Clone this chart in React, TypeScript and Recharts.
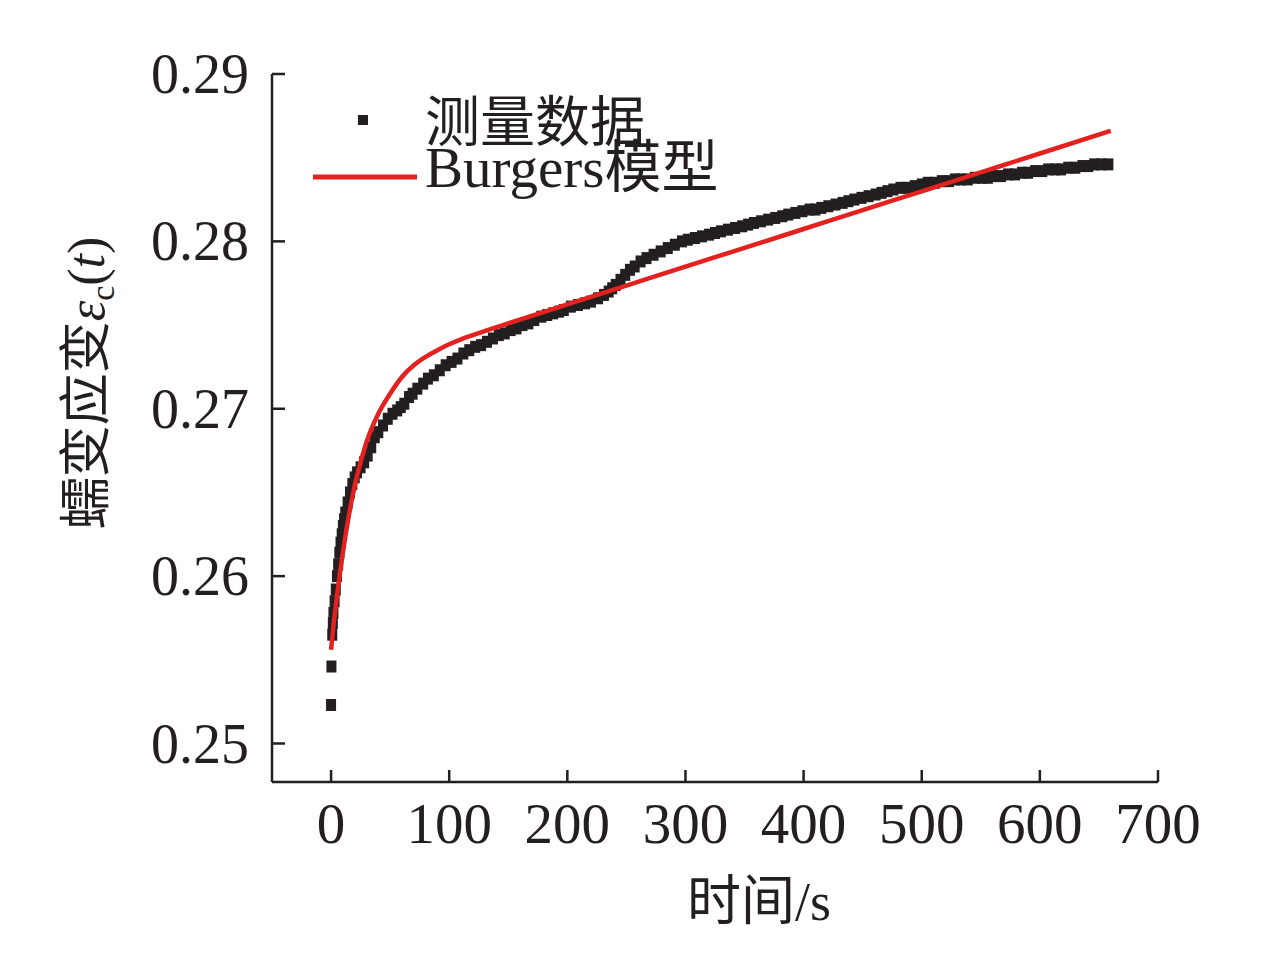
import React from 'react';
import { ScatterChart, Scatter, XAxis, YAxis, Legend } from 'recharts';

// ---- data ----
const measuredTime = [
  0, 0.3, 1, 1.5, 2, 3, 4, 5, 6, 7, 8, 9, 10, 11, 12, 14, 16, 18, 20, 22, 25, 28, 31, 34, 37, 40, 44, 48, 52, 56, 59,
  62, 66, 69, 73, 78, 82, 87, 92, 97, 102, 107, 112, 117, 122, 127, 132, 137, 142, 147, 152, 157, 162, 167, 172,
  178, 183, 188, 193, 197, 203, 209, 215, 220, 226, 231, 235, 238, 241, 245, 249, 253, 257, 262, 267, 273, 279,
  285, 291, 297, 302, 308, 314, 320, 325, 330, 336, 342, 348, 353, 358, 364, 370, 376, 382, 387, 393, 399, 405,
  410, 415, 421, 427, 433, 438, 443, 449, 455, 461, 466, 471, 476, 482, 488, 494, 500, 505, 511, 517, 523, 528,
  533, 539, 545, 551, 556, 561, 567, 573, 579, 585, 590, 596, 602, 607, 613, 618, 624, 630, 636, 641, 646, 652, 658,
];
const measuredStrain = [
  0.2523, 0.2546, 0.2565, 0.2572, 0.2578, 0.2585, 0.2592, 0.26, 0.2607, 0.2614, 0.262, 0.2625, 0.263, 0.2634,
  0.2638, 0.2644, 0.265, 0.2655, 0.2659, 0.2662, 0.2665, 0.2668, 0.2672, 0.2677, 0.2683, 0.2686, 0.269, 0.2694,
  0.2697, 0.2699, 0.2701,
  0.2703, 0.2707, 0.2709, 0.2712, 0.2715, 0.2718, 0.272, 0.2723, 0.2726, 0.2728, 0.273, 0.2733, 0.2735, 0.2737,
  0.2738, 0.274, 0.2742, 0.2744, 0.2745, 0.2747, 0.2748, 0.275, 0.2751, 0.2753,
  0.2755, 0.2756, 0.2757, 0.2758, 0.2759, 0.2761, 0.2762, 0.2763, 0.2764, 0.2766, 0.2768, 0.277, 0.2772, 0.2774,
  0.2777, 0.278, 0.2783, 0.2785, 0.2788, 0.279, 0.2792, 0.2794,
  0.2796, 0.2798, 0.28, 0.2801, 0.2802, 0.2803, 0.2804, 0.2805, 0.2806, 0.2807, 0.2808, 0.2809, 0.281, 0.2811,
  0.2812, 0.2813, 0.2814, 0.2815, 0.2816, 0.2817, 0.2818, 0.2819,
  0.2819, 0.282, 0.2821, 0.2822, 0.2823, 0.2824, 0.2825, 0.2826, 0.2827, 0.2828, 0.2829, 0.283, 0.2831, 0.2832,
  0.2832, 0.2833, 0.2834, 0.2835, 0.2835, 0.2836, 0.2836, 0.2837,
  0.2837, 0.2837, 0.2838, 0.2838, 0.2838, 0.2839, 0.2839, 0.284, 0.284, 0.2841, 0.2841, 0.2842, 0.2842, 0.2843,
  0.2843, 0.2843, 0.2844, 0.2844, 0.2845, 0.2845, 0.2846, 0.2846, 0.2846,
];

const modelTime = [0, 2, 5, 10, 15, 20, 25, 30, 40, 50, 60, 70, 80, 90, 100, 110, 120, 135, 150, 200, 250, 300, 350, 400, 450, 500, 550, 600, 660];
const modelStrain = [
  0.2556, 0.257, 0.2588, 0.2614, 0.2636, 0.2654, 0.2668, 0.268, 0.2697, 0.2709, 0.2719, 0.2726, 0.2731, 0.2735,
  0.27385, 0.27415, 0.2744, 0.27476, 0.2751, 0.27623, 0.27736, 0.27849, 0.27961, 0.28074, 0.28187, 0.28299,
  0.28412, 0.28525, 0.2866,
];

const xTicks = [0, 100, 200, 300, 400, 500, 600, 700];
const yTicks = [0.25, 0.26, 0.27, 0.28, 0.29];
const seriesNames = ['测量数据', 'Burgers模型'];

const measured = measuredTime.map((t, i) => ({ t, e: measuredStrain[i] }));
const model = modelTime.map((t, i) => ({ t, e: modelStrain[i] }));

// ---- styles ----
const INK = '#231f20';
const RED = '#e3211f';
const FONT = "'Liberation Serif', 'Times New Roman', 'Noto Sans CJK SC', serif";

const XTick = (props: any) => {
  const { x, y, payload } = props;
  return (
    <g>
      <line x1={x} x2={x} y1={y} y2={y - 12} stroke={INK} strokeWidth={2.5} />
      <text x={x} y={y + 61} textAnchor="middle" fontSize={57} fill={INK} fontFamily={FONT}>
        {payload.value}
      </text>
    </g>
  );
};

const YTick = (props: any) => {
  const { x, y, payload } = props;
  return (
    <g>
      <line x1={x} x2={x + 13} y1={y} y2={y} stroke={INK} strokeWidth={2.5} />
      <text x={x - 23} y={y + 19} textAnchor="end" fontSize={56} fill={INK} fontFamily={FONT}>
        {Number(payload.value).toFixed(2)}
      </text>
    </g>
  );
};

const XLabel = () => (
  <text x={759} y={920} textAnchor="middle" fontSize={54} fill={INK} fontFamily={FONT}>
    时间/s
  </text>
);

const YLabel = () => (
  <text
    x={104}
    y={383}
    textAnchor="middle"
    fontSize={52}
    fill={INK}
    fontFamily={FONT}
    transform="rotate(-90, 104, 383)"
  >
    蠕变应变
    <tspan fontStyle="italic">ε</tspan>
    <tspan fontSize={34} dy={10}>c</tspan>
    <tspan dy={-10}>(</tspan>
    <tspan fontStyle="italic">t</tspan>
    <tspan>)</tspan>
  </text>
);

const SquareMark = (props: any) => {
  const { cx, cy } = props;
  if (cx == null || cy == null) return <g />;
  return <rect x={cx - 5} y={cy - 6} width={10} height={12} fill={INK} />;
};

const NoMark = () => <g />;

const renderLegend = () => (
  <svg width={460} height={130} style={{ display: 'block' }}>
    <rect x={58} y={35} width={10} height={10} fill={INK} />
    <text x={125} y={61} fontSize={55} fill={INK} fontFamily={FONT}>
      {seriesNames[0]}
    </text>
    <line x1={13} x2={117} y1={97} y2={97} stroke={RED} strokeWidth={5} />
    <text x={125} y={107} fontSize={57} fill={INK} fontFamily={FONT}>
      {seriesNames[1]}
    </text>
  </svg>
);

export default function App() {
  return (
    <div style={{ position: 'absolute', left: 0, top: 0, width: 1266, height: 962, background: '#fff' }}>
      <ScatterChart width={1266} height={962} margin={{ top: 74, right: 108, bottom: 80, left: 0 }}>
        <XAxis
          dataKey="t"
          type="number"
          domain={[-50, 700]}
          ticks={xTicks}
          allowDataOverflow
          height={100}
          tickSize={0}
          tickMargin={0}
          tickLine={false}
          tick={<XTick />}
          axisLine={{ stroke: INK, strokeWidth: 2.5 }}
          label={<XLabel />}
        />
        <YAxis
          dataKey="e"
          type="number"
          domain={[0.2477, 0.29]}
          ticks={yTicks}
          allowDataOverflow
          width={272}
          tickSize={0}
          tickMargin={0}
          tickLine={false}
          tick={<YTick />}
          axisLine={{ stroke: INK, strokeWidth: 2.5 }}
          label={<YLabel />}
        />
        <Legend
          layout="vertical"
          align="center"
          verticalAlign="middle"
          content={renderLegend}
          wrapperStyle={{ position: 'absolute', left: 300, top: 80, width: 460, height: 130 }}
        />
        <Scatter
          name={seriesNames[0]}
          data={measured}
          shape={SquareMark}
          fill={INK}
          isAnimationActive={false}
        />
        <Scatter
          name={seriesNames[1]}
          data={model}
          shape={NoMark}
          fill={RED}
          line={{ stroke: RED, strokeWidth: 4.5 }}
          lineJointType="monotoneX"
          isAnimationActive={false}
        />
      </ScatterChart>
    </div>
  );
}
